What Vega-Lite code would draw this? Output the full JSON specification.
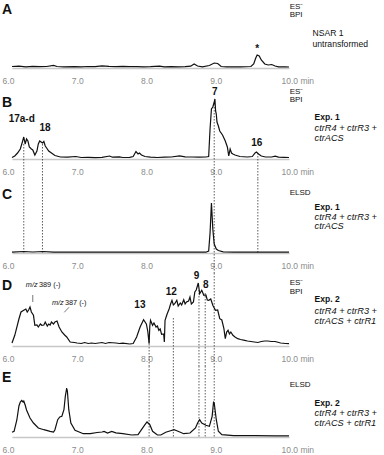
{
"$schema": "https://vega.github.io/schema/vega-lite/v6.json",
"padding": {"left": 2, "top": 0, "right": 0, "bottom": 0},
"bounds": "flush",
"spacing": 20,
"background": "white",
"config": {"view": {"stroke": null}, "font": "Liberation Sans"},
"datasets": {
"trA": [{"t":6.0,"v":1.5},{"t":6.1,"v":1.8},{"t":6.2,"v":1.2},{"t":6.3,"v":1.6},{"t":6.4,"v":1.3},{"t":6.5,"v":1.5},{"t":6.6,"v":2.6},{"t":6.65,"v":1.5},{"t":6.75,"v":1.2},{"t":6.9,"v":1.4},{"t":7.0,"v":1.2},{"t":7.1,"v":1.5},{"t":7.2,"v":1.3},{"t":7.3,"v":2.2},{"t":7.4,"v":1.6},{"t":7.5,"v":1.4},{"t":7.6,"v":1.6},{"t":7.7,"v":1.3},{"t":7.8,"v":1.4},{"t":7.9,"v":1.2},{"t":8.0,"v":1.3},{"t":8.13,"v":1.9},{"t":8.2,"v":1.2},{"t":8.3,"v":1.3},{"t":8.4,"v":1.2},{"t":8.5,"v":1.3},{"t":8.58,"v":1.8},{"t":8.63,"v":4},{"t":8.68,"v":2},{"t":8.75,"v":1.2},{"t":8.85,"v":2.5},{"t":8.92,"v":5},{"t":8.97,"v":4.5},{"t":9.02,"v":1.5},{"t":9.1,"v":1.2},{"t":9.3,"v":1.2},{"t":9.45,"v":1.5},{"t":9.49,"v":4},{"t":9.52,"v":10},{"t":9.54,"v":13},{"t":9.57,"v":12},{"t":9.6,"v":8},{"t":9.65,"v":4},{"t":9.7,"v":3},{"t":9.75,"v":3.5},{"t":9.8,"v":2},{"t":9.85,"v":1.2},{"t":9.95,"v":1.2},{"t":10.0,"v":1.0}],
"trB": [{"t":6.0,"v":1.5},{"t":6.04,"v":3},{"t":6.08,"v":6},{"t":6.12,"v":10},{"t":6.15,"v":17},{"t":6.17,"v":22},{"t":6.19,"v":15},{"t":6.21,"v":20},{"t":6.23,"v":18},{"t":6.25,"v":12},{"t":6.28,"v":10},{"t":6.3,"v":9},{"t":6.33,"v":4},{"t":6.36,"v":8},{"t":6.38,"v":15},{"t":6.4,"v":18},{"t":6.42,"v":17},{"t":6.44,"v":16},{"t":6.46,"v":17.5},{"t":6.48,"v":13},{"t":6.5,"v":11},{"t":6.53,"v":8},{"t":6.57,"v":6},{"t":6.62,"v":3.5},{"t":6.7,"v":2},{"t":6.8,"v":1.8},{"t":6.92,"v":2.5},{"t":7.0,"v":1.5},{"t":7.1,"v":1.6},{"t":7.2,"v":1.4},{"t":7.3,"v":1.7},{"t":7.41,"v":3},{"t":7.45,"v":1.8},{"t":7.55,"v":2.2},{"t":7.6,"v":1.5},{"t":7.7,"v":1.6},{"t":7.75,"v":2.5},{"t":7.79,"v":7.5},{"t":7.82,"v":5},{"t":7.84,"v":6},{"t":7.87,"v":4},{"t":7.92,"v":2.5},{"t":8.0,"v":1.8},{"t":8.1,"v":1.5},{"t":8.2,"v":1.8},{"t":8.3,"v":2},{"t":8.42,"v":3.2},{"t":8.5,"v":2.2},{"t":8.6,"v":2},{"t":8.7,"v":1.8},{"t":8.8,"v":2},{"t":8.84,"v":2.5},{"t":8.86,"v":30},{"t":8.88,"v":50},{"t":8.9,"v":52},{"t":8.92,"v":57},{"t":8.93,"v":60},{"t":8.94,"v":48},{"t":8.95,"v":45},{"t":8.96,"v":37},{"t":8.98,"v":33},{"t":9.0,"v":28},{"t":9.04,"v":24},{"t":9.08,"v":18},{"t":9.11,"v":12},{"t":9.13,"v":3},{"t":9.15,"v":10},{"t":9.17,"v":6},{"t":9.19,"v":5},{"t":9.22,"v":4},{"t":9.29,"v":2.5},{"t":9.4,"v":2},{"t":9.47,"v":2.5},{"t":9.51,"v":6},{"t":9.53,"v":7},{"t":9.56,"v":5},{"t":9.6,"v":3},{"t":9.66,"v":2},{"t":9.75,"v":2},{"t":9.8,"v":2.8},{"t":9.85,"v":1.8},{"t":9.93,"v":1.6},{"t":10.0,"v":1.5}],
"trC": [{"t":6.0,"v":0.8},{"t":6.17,"v":1.5},{"t":6.3,"v":1},{"t":6.45,"v":1.5},{"t":6.6,"v":0.9},{"t":7.0,"v":0.8},{"t":7.5,"v":0.8},{"t":8.0,"v":0.8},{"t":8.5,"v":0.8},{"t":8.8,"v":0.8},{"t":8.84,"v":2},{"t":8.86,"v":20},{"t":8.88,"v":50},{"t":8.9,"v":24},{"t":8.92,"v":9},{"t":8.95,"v":4},{"t":8.98,"v":2.5},{"t":9.05,"v":1.2},{"t":9.2,"v":0.9},{"t":9.6,"v":0.8},{"t":10.0,"v":0.8}],
"trD": [{"t":6.0,"v":3},{"t":6.04,"v":10.7},{"t":6.1,"v":27},{"t":6.13,"v":34},{"t":6.17,"v":35.7},{"t":6.2,"v":37},{"t":6.22,"v":34},{"t":6.24,"v":36},{"t":6.26,"v":39},{"t":6.28,"v":34},{"t":6.31,"v":30.7},{"t":6.33,"v":20.7},{"t":6.36,"v":21},{"t":6.38,"v":19},{"t":6.41,"v":22},{"t":6.43,"v":20.7},{"t":6.46,"v":21},{"t":6.48,"v":24},{"t":6.51,"v":20},{"t":6.53,"v":22},{"t":6.55,"v":21},{"t":6.57,"v":24},{"t":6.6,"v":22},{"t":6.62,"v":24},{"t":6.65,"v":25},{"t":6.68,"v":19},{"t":6.72,"v":14},{"t":6.76,"v":11},{"t":6.79,"v":9},{"t":6.84,"v":4},{"t":6.9,"v":3.5},{"t":6.94,"v":3},{"t":7.0,"v":2.5},{"t":7.05,"v":3.5},{"t":7.1,"v":2.5},{"t":7.15,"v":3},{"t":7.2,"v":2.5},{"t":7.3,"v":3.5},{"t":7.35,"v":2.5},{"t":7.4,"v":3.5},{"t":7.5,"v":3},{"t":7.55,"v":2.5},{"t":7.6,"v":2.8},{"t":7.7,"v":2},{"t":7.75,"v":2.5},{"t":7.8,"v":9},{"t":7.85,"v":19},{"t":7.9,"v":26.3},{"t":7.94,"v":22},{"t":7.96,"v":15},{"t":7.98,"v":2.3},{"t":7.99,"v":20},{"t":8.0,"v":25.7},{"t":8.03,"v":20.7},{"t":8.05,"v":23},{"t":8.08,"v":19},{"t":8.1,"v":20},{"t":8.12,"v":15.7},{"t":8.14,"v":17},{"t":8.16,"v":11.7},{"t":8.19,"v":12},{"t":8.2,"v":4},{"t":8.21,"v":25.7},{"t":8.24,"v":32},{"t":8.27,"v":37.3},{"t":8.29,"v":42},{"t":8.31,"v":45.7},{"t":8.33,"v":41},{"t":8.35,"v":42.3},{"t":8.38,"v":45.7},{"t":8.4,"v":40},{"t":8.43,"v":43},{"t":8.45,"v":41},{"t":8.48,"v":46.3},{"t":8.5,"v":42},{"t":8.52,"v":44},{"t":8.55,"v":45},{"t":8.57,"v":49},{"t":8.59,"v":42},{"t":8.62,"v":44},{"t":8.64,"v":54},{"t":8.66,"v":56},{"t":8.69,"v":63},{"t":8.71,"v":52.3},{"t":8.74,"v":55.7},{"t":8.77,"v":50.7},{"t":8.8,"v":51},{"t":8.82,"v":46},{"t":8.84,"v":45.7},{"t":8.87,"v":47},{"t":8.9,"v":40.7},{"t":8.92,"v":38},{"t":8.94,"v":35.7},{"t":8.97,"v":36},{"t":9.0,"v":27.3},{"t":9.03,"v":26},{"t":9.06,"v":17.3},{"t":9.08,"v":7.3},{"t":9.1,"v":14},{"t":9.12,"v":15.7},{"t":9.14,"v":12},{"t":9.16,"v":14},{"t":9.19,"v":10.7},{"t":9.22,"v":9},{"t":9.26,"v":7.3},{"t":9.3,"v":6.5},{"t":9.36,"v":5.7},{"t":9.4,"v":5},{"t":9.45,"v":4.5},{"t":9.5,"v":4},{"t":9.55,"v":3.5},{"t":9.6,"v":4.5},{"t":9.65,"v":5},{"t":9.69,"v":5},{"t":9.75,"v":4.5},{"t":9.8,"v":4.5},{"t":9.88,"v":3},{"t":9.95,"v":2.5},{"t":10.0,"v":2.3}],
"trE": [{"t":6.0,"v":4.7},{"t":6.03,"v":5.7},{"t":6.07,"v":17},{"t":6.1,"v":31},{"t":6.12,"v":35},{"t":6.14,"v":36.5},{"t":6.16,"v":35},{"t":6.17,"v":36},{"t":6.19,"v":32},{"t":6.21,"v":27},{"t":6.26,"v":19},{"t":6.31,"v":14},{"t":6.38,"v":9},{"t":6.46,"v":7.3},{"t":6.55,"v":5.7},{"t":6.6,"v":5},{"t":6.62,"v":7.3},{"t":6.66,"v":17.3},{"t":6.69,"v":20},{"t":6.72,"v":20.7},{"t":6.75,"v":27.3},{"t":6.77,"v":40.7},{"t":6.79,"v":49},{"t":6.8,"v":45.7},{"t":6.82,"v":27.3},{"t":6.85,"v":14},{"t":6.91,"v":6.7},{"t":7.03,"v":3.3},{"t":7.13,"v":3.3},{"t":7.23,"v":4.5},{"t":7.3,"v":5},{"t":7.33,"v":5.6},{"t":7.38,"v":4},{"t":7.44,"v":5.6},{"t":7.5,"v":4.2},{"t":7.6,"v":3.3},{"t":7.73,"v":2},{"t":7.82,"v":2.3},{"t":7.87,"v":7.3},{"t":7.92,"v":12.3},{"t":7.95,"v":15},{"t":7.99,"v":12.3},{"t":8.03,"v":5.7},{"t":8.1,"v":2},{"t":8.15,"v":2},{"t":8.22,"v":4.7},{"t":8.29,"v":6.3},{"t":8.34,"v":7.3},{"t":8.38,"v":6.3},{"t":8.48,"v":3.3},{"t":8.57,"v":4},{"t":8.65,"v":9},{"t":8.68,"v":14},{"t":8.71,"v":17.3},{"t":8.74,"v":14},{"t":8.8,"v":11.7},{"t":8.85,"v":10.7},{"t":8.89,"v":20.7},{"t":8.91,"v":34.7},{"t":8.92,"v":34},{"t":8.95,"v":17.3},{"t":8.98,"v":5.7},{"t":9.03,"v":2.3},{"t":9.2,"v":1.3},{"t":9.5,"v":1.3},{"t":9.8,"v":1.2},{"t":10.0,"v":1.2}]
},
"vconcat": [
{
"width": 277, "height": 68,
"encoding": {
 "x": {"field":"t","type":"quantitative","scale":{"domain":[6,10],"nice":false,"zero":false},"axis":{"values":[6,7,8,9,10],"title":null,"labelExpr":"datum.value == 10 ? '10.0 min' : format(datum.value, '.1f')","labelFlush":false,"labelAlign":{"condition":{"test":"datum.value == 10","value":"left"},"value":"center"},"labelOffset":{"condition":{"test":"datum.value == 10","value":-8},"value":-4},"ticks":false,"grid":false,"domainColor":"#c8c8c8","domainWidth":1.5,"labelColor":"#8c8c8c","labelFontSize":8.5,"labelPadding":8,"labelFont":"Liberation Sans"}},
 "y": {"field":"v","type":"quantitative","scale":{"domain":[0,68],"nice":false,"zero":false},"axis":null}
},
"layer": [
 {"data":{"name":"trA"},"mark":{"type":"line","color":"#111","strokeWidth":1.2},"encoding":{}},
 {"data":{"values":[{"t":5.856,"v":58,"s":"A"}]},"mark":{"type":"text","align":"left","baseline":"middle","fontSize":14,"fontWeight":"bold","font":"Liberation Sans","color":"#111"},"encoding":{"text":{"field":"s"}}},
 {"data":{"values":[{"t":10.01,"v":61,"s":"ES⁻"},{"t":10.01,"v":53,"s":"BPI"}]},"mark":{"type":"text","align":"left","baseline":"middle","fontSize":8,"font":"Liberation Sans","color":"#111"},"encoding":{"text":{"field":"s"}}},
 {"data":{"values":[{"t":10.34,"v":35,"s":"NSAR 1"},{"t":10.34,"v":24,"s":"untransformed"}]},"mark":{"type":"text","align":"left","baseline":"middle","fontSize":8.6,"font":"Liberation Sans","color":"#111"},"encoding":{"text":{"field":"s"}}},
 {"data":{"values":[{"t":9.54,"v":19,"s":"*"}]},"mark":{"type":"text","align":"center","baseline":"middle","fontSize":10,"fontWeight":"bold","font":"Liberation Sans","color":"#111"},"encoding":{"text":{"field":"s"}}}
]
},
{
"width": 277, "height": 71,
"encoding": {
 "x": {"field":"t","type":"quantitative","scale":{"domain":[6,10],"nice":false,"zero":false},"axis":{"values":[6,7,8,9,10],"title":null,"labelExpr":"datum.value == 10 ? '10.0 min' : format(datum.value, '.1f')","labelFlush":false,"labelAlign":{"condition":{"test":"datum.value == 10","value":"left"},"value":"center"},"labelOffset":{"condition":{"test":"datum.value == 10","value":-8},"value":-4},"ticks":false,"grid":false,"domainColor":"#c8c8c8","domainWidth":1.5,"labelColor":"#8c8c8c","labelFontSize":8.5,"labelPadding":8,"labelFont":"Liberation Sans"}},
 "y": {"field":"v","type":"quantitative","scale":{"domain":[0,71],"nice":false,"zero":false},"axis":null}
},
"layer": [
 {"data":{"values":[{"t":6.17,"v":15,"v2":-20},{"t":6.44,"v":15,"v2":-20},{"t":8.92,"v":55,"v2":-20},{"t":9.55,"v":6,"v2":-20}]},"mark":{"type":"rule","strokeDash":[1.5,1.5],"color":"#333","strokeWidth":0.8},"encoding":{"y2":{"field":"v2"}}},
 {"data":{"name":"trB"},"mark":{"type":"line","color":"#111","strokeWidth":1.2},"encoding":{}},
 {"data":{"values":[{"t":5.856,"v":56,"s":"B"}]},"mark":{"type":"text","align":"left","baseline":"middle","fontSize":14,"fontWeight":"bold","font":"Liberation Sans","color":"#111"},"encoding":{"text":{"field":"s"}}},
 {"data":{"values":[{"t":10.01,"v":67,"s":"ES⁻"},{"t":10.01,"v":59,"s":"BPI"}]},"mark":{"type":"text","align":"left","baseline":"middle","fontSize":8,"font":"Liberation Sans","color":"#111"},"encoding":{"text":{"field":"s"}}},
 {"data":{"values":[{"t":10.37,"v":42,"s":"Exp. 1"}]},"mark":{"type":"text","align":"left","baseline":"middle","fontSize":8.5,"fontWeight":"bold","font":"Liberation Sans","color":"#111"},"encoding":{"text":{"field":"s"}}},
 {"data":{"values":[{"t":10.37,"v":31.5,"s":"ctrR4 + ctrR3 +"},{"t":10.37,"v":21,"s":"ctrACS"}]},"mark":{"type":"text","align":"left","baseline":"middle","fontSize":9.2,"fontStyle":"italic","font":"Liberation Sans","color":"#111"},"encoding":{"text":{"field":"s"}}},
 {"data":{"values":[{"t":6.14,"v":40,"s":"17a-d"},{"t":6.476,"v":31,"s":"18"},{"t":8.93,"v":67,"s":"7"},{"t":9.535,"v":16,"s":"16"}]},"mark":{"type":"text","align":"center","baseline":"middle","fontSize":10,"fontWeight":"bold","font":"Liberation Sans","color":"#111"},"encoding":{"text":{"field":"s"}}}
]
},
{
"width": 277, "height": 74,
"encoding": {
 "x": {"field":"t","type":"quantitative","scale":{"domain":[6,10],"nice":false,"zero":false},"axis":{"values":[6,7,8,9,10],"title":null,"labelExpr":"datum.value == 10 ? '10.0 min' : format(datum.value, '.1f')","labelFlush":false,"labelAlign":{"condition":{"test":"datum.value == 10","value":"left"},"value":"center"},"labelOffset":{"condition":{"test":"datum.value == 10","value":-8},"value":-4},"ticks":false,"grid":false,"domainColor":"#c8c8c8","domainWidth":1.5,"labelColor":"#8c8c8c","labelFontSize":8.5,"labelPadding":8,"labelFont":"Liberation Sans"}},
 "y": {"field":"v","type":"quantitative","scale":{"domain":[0,74],"nice":false,"zero":false},"axis":null}
},
"layer": [
 {"data":{"values":[{"t":6.17,"v":74,"v2":0},{"t":6.44,"v":74,"v2":0},{"t":8.92,"v":74,"v2":-20},{"t":9.55,"v":74,"v2":0}]},"mark":{"type":"rule","strokeDash":[1.5,1.5],"color":"#333","strokeWidth":0.8},"encoding":{"y2":{"field":"v2"}}},
 {"data":{"name":"trC"},"mark":{"type":"line","color":"#111","strokeWidth":1.2},"encoding":{}},
 {"data":{"values":[{"t":5.856,"v":58,"s":"C"}]},"mark":{"type":"text","align":"left","baseline":"middle","fontSize":14,"fontWeight":"bold","font":"Liberation Sans","color":"#111"},"encoding":{"text":{"field":"s"}}},
 {"data":{"values":[{"t":10.01,"v":60,"s":"ELSD"}]},"mark":{"type":"text","align":"left","baseline":"middle","fontSize":8,"font":"Liberation Sans","color":"#111"},"encoding":{"text":{"field":"s"}}},
 {"data":{"values":[{"t":10.37,"v":46,"s":"Exp. 1"}]},"mark":{"type":"text","align":"left","baseline":"middle","fontSize":8.5,"fontWeight":"bold","font":"Liberation Sans","color":"#111"},"encoding":{"text":{"field":"s"}}},
 {"data":{"values":[{"t":10.37,"v":36.5,"s":"ctrR4 + ctrR3 +"},{"t":10.37,"v":27,"s":"ctrACS"}]},"mark":{"type":"text","align":"left","baseline":"middle","fontSize":9.2,"fontStyle":"italic","font":"Liberation Sans","color":"#111"},"encoding":{"text":{"field":"s"}}}
]
},
{
"width": 277, "height": 73,
"encoding": {
 "x": {"field":"t","type":"quantitative","scale":{"domain":[6,10],"nice":false,"zero":false},"axis":{"values":[6,7,8,9,10],"title":null,"labelExpr":"datum.value == 10 ? '10.0 min' : format(datum.value, '.1f')","labelFlush":false,"labelAlign":{"condition":{"test":"datum.value == 10","value":"left"},"value":"center"},"labelOffset":{"condition":{"test":"datum.value == 10","value":-8},"value":-4},"ticks":false,"grid":false,"domainColor":"#c8c8c8","domainWidth":1.5,"labelColor":"#8c8c8c","labelFontSize":8.5,"labelPadding":8,"labelFont":"Liberation Sans"}},
 "y": {"field":"v","type":"quantitative","scale":{"domain":[0,73],"nice":false,"zero":false},"axis":null}
},
"layer": [
 {"data":{"values":[{"t":7.98,"v":8,"v2":-20},{"t":8.33,"v":28,"v2":-20},{"t":8.7,"v":56,"v2":-20},{"t":8.79,"v":53,"v2":-20},{"t":8.92,"v":73,"v2":-20}]},"mark":{"type":"rule","strokeDash":[1.5,1.5],"color":"#333","strokeWidth":0.8},"encoding":{"y2":{"field":"v2"}}},
 {"data":{"values":[{"t":6.3,"t2":6.3,"v":51,"v2":44},{"t":6.755,"t2":6.823,"v":33.7,"v2":38.7}]},"mark":{"type":"rule","color":"#555","strokeWidth":0.8},"encoding":{"x2":{"field":"t2"},"y2":{"field":"v2"}}},
 {"data":{"name":"trD"},"mark":{"type":"line","color":"#111","strokeWidth":1.2},"encoding":{}},
 {"data":{"values":[{"t":5.856,"v":60,"s":"D"}]},"mark":{"type":"text","align":"left","baseline":"middle","fontSize":14,"fontWeight":"bold","font":"Liberation Sans","color":"#111"},"encoding":{"text":{"field":"s"}}},
 {"data":{"values":[{"t":10.01,"v":63,"s":"ES⁻"},{"t":10.01,"v":54,"s":"BPI"}]},"mark":{"type":"text","align":"left","baseline":"middle","fontSize":8,"font":"Liberation Sans","color":"#111"},"encoding":{"text":{"field":"s"}}},
 {"data":{"values":[{"t":6.39,"v":61,"s":"389 (-)"},{"t":6.765,"v":43,"s":"387 (-)"}]},"mark":{"type":"text","align":"left","baseline":"middle","fontSize":7.3,"font":"Liberation Sans","color":"#111"},"encoding":{"text":{"field":"s"}}},
 {"data":{"values":[{"t":6.2,"v":61,"s":"m/z"},{"t":6.577,"v":43,"s":"m/z"}]},"mark":{"type":"text","align":"left","baseline":"middle","fontSize":7.3,"fontStyle":"italic","font":"Liberation Sans","color":"#111"},"encoding":{"text":{"field":"s"}}},
 {"data":{"values":[{"t":10.37,"v":47,"s":"Exp. 2"}]},"mark":{"type":"text","align":"left","baseline":"middle","fontSize":8.5,"fontWeight":"bold","font":"Liberation Sans","color":"#111"},"encoding":{"text":{"field":"s"}}},
 {"data":{"values":[{"t":10.37,"v":35.5,"s":"ctrR4 + ctrR3 +"},{"t":10.37,"v":25,"s":"ctrACS + ctrR1"}]},"mark":{"type":"text","align":"left","baseline":"middle","fontSize":9.2,"fontStyle":"italic","font":"Liberation Sans","color":"#111"},"encoding":{"text":{"field":"s"}}},
 {"data":{"values":[{"t":7.847,"v":41,"s":"13"},{"t":8.3,"v":54,"s":"12"},{"t":8.665,"v":70,"s":"9"},{"t":8.8,"v":61,"s":"8"}]},"mark":{"type":"text","align":"center","baseline":"middle","fontSize":10,"fontWeight":"bold","font":"Liberation Sans","color":"#111"},"encoding":{"text":{"field":"s"}}}
]
},
{
"width": 277, "height": 71,
"encoding": {
 "x": {"field":"t","type":"quantitative","scale":{"domain":[6,10],"nice":false,"zero":false},"axis":{"values":[6,7,8,9,10],"title":null,"labelExpr":"datum.value == 10 ? '10.0 min' : format(datum.value, '.1f')","labelFlush":false,"labelAlign":{"condition":{"test":"datum.value == 10","value":"left"},"value":"center"},"labelOffset":{"condition":{"test":"datum.value == 10","value":-8},"value":-4},"ticks":false,"grid":false,"domainColor":"#c8c8c8","domainWidth":1.5,"labelColor":"#8c8c8c","labelFontSize":8.5,"labelPadding":8,"labelFont":"Liberation Sans"}},
 "y": {"field":"v","type":"quantitative","scale":{"domain":[0,71],"nice":false,"zero":false},"axis":null}
},
"layer": [
 {"data":{"values":[{"t":7.98,"v":71,"v2":0},{"t":8.33,"v":71,"v2":0},{"t":8.7,"v":71,"v2":0},{"t":8.79,"v":71,"v2":0},{"t":8.92,"v":71,"v2":0}]},"mark":{"type":"rule","strokeDash":[1.5,1.5],"color":"#333","strokeWidth":0.8},"encoding":{"y2":{"field":"v2"}}},
 {"data":{"name":"trE"},"mark":{"type":"line","color":"#111","strokeWidth":1.2},"encoding":{}},
 {"data":{"values":[{"t":5.856,"v":59,"s":"E"}]},"mark":{"type":"text","align":"left","baseline":"middle","fontSize":14,"fontWeight":"bold","font":"Liberation Sans","color":"#111"},"encoding":{"text":{"field":"s"}}},
 {"data":{"values":[{"t":10.01,"v":52,"s":"ELSD"}]},"mark":{"type":"text","align":"left","baseline":"middle","fontSize":8,"font":"Liberation Sans","color":"#111"},"encoding":{"text":{"field":"s"}}},
 {"data":{"values":[{"t":10.37,"v":34,"s":"Exp. 2"}]},"mark":{"type":"text","align":"left","baseline":"middle","fontSize":8.5,"fontWeight":"bold","font":"Liberation Sans","color":"#111"},"encoding":{"text":{"field":"s"}}},
 {"data":{"values":[{"t":10.37,"v":24.5,"s":"ctrR4 + ctrR3 +"},{"t":10.37,"v":14,"s":"ctrACS + ctrR1"}]},"mark":{"type":"text","align":"left","baseline":"middle","fontSize":9.2,"fontStyle":"italic","font":"Liberation Sans","color":"#111"},"encoding":{"text":{"field":"s"}}}
]
}
]
}
